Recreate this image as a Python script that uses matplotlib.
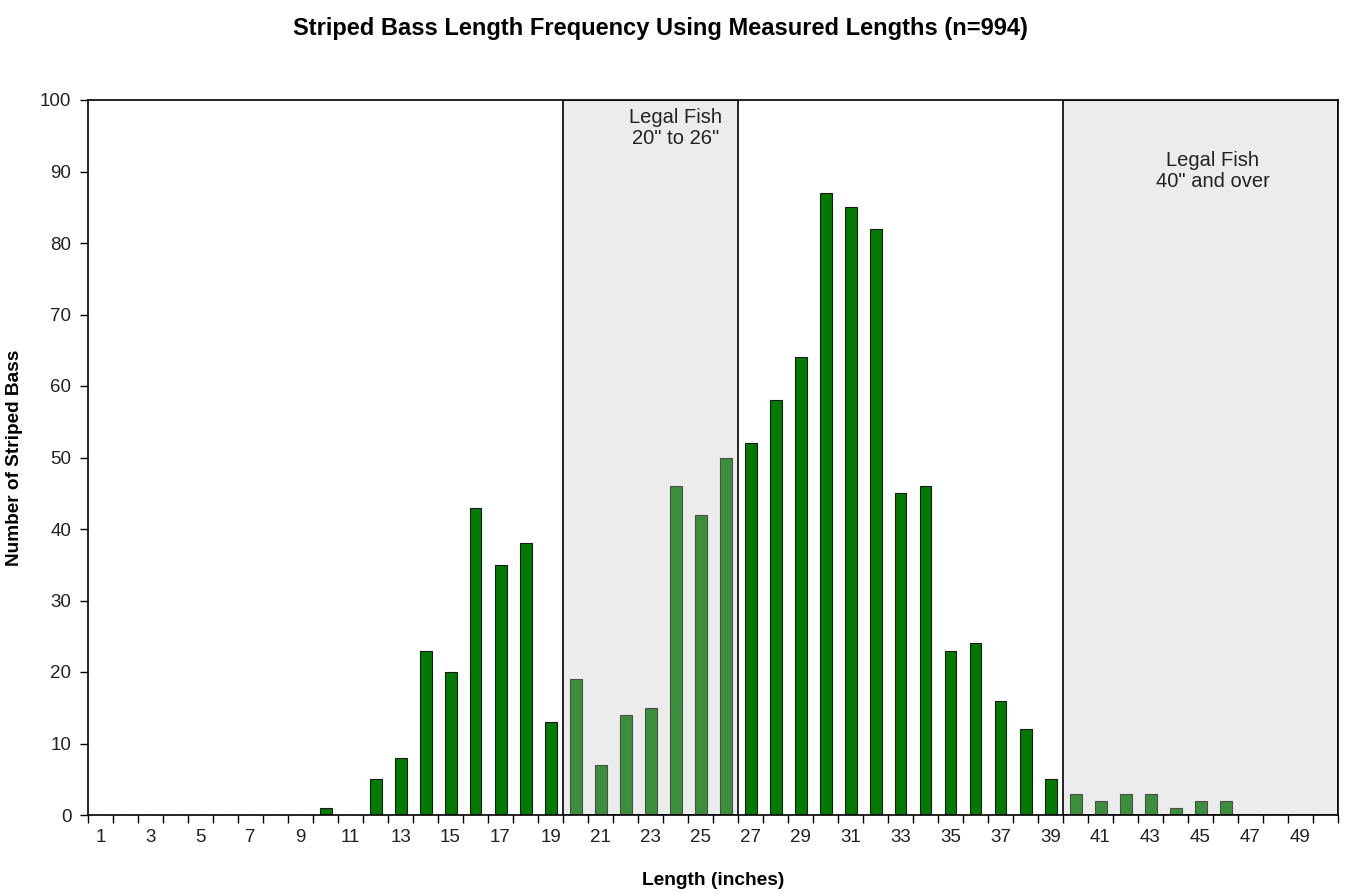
import matplotlib
matplotlib.use("Agg")
import matplotlib.pyplot as plt
from matplotlib.patches import Rectangle

plt.rcParams['font.family'] = ['Liberation Sans', 'DejaVu Sans']

lengths = list(range(1, 51))
counts = [0, 0, 0, 0, 0, 0, 0, 0, 0, 1,
          0, 5, 8, 23, 20, 43, 35, 38, 13, 19,
          7, 14, 15, 46, 42, 50, 52, 58, 64, 87,
          85, 82, 45, 46, 23, 24, 16, 12, 5, 3,
          2, 3, 3, 1, 2, 2, 0, 0, 0, 0]
tick_labels = [str(v) for v in range(1, 51, 2)]
legal_ranges = [(20, 26), (40, 50)]
legal_texts = ['Legal Fish\n20" to 26"', 'Legal Fish\n40" and over']

fig = plt.figure(figsize=(13.45, 8.94), dpi=100)
ax = fig.add_axes([88/1345, 1-815/894, 1250/1345, 715/894])

ax.bar(lengths, counts, width=0.48, color='#007a00', edgecolor='#1a1a1a',
       linewidth=0.8, zorder=2)

for (lo, hi) in legal_ranges:
    ax.add_patch(Rectangle((lo - 0.5, 0), hi - lo + 1, 100, facecolor='#c1c1c1',
                           alpha=0.3, edgecolor='none', zorder=3))
    ax.add_patch(Rectangle((lo - 0.5, 0), hi - lo + 1, 100, facecolor='none',
                           edgecolor='black', linewidth=1.2, zorder=4))

ax.text(24.0, 98.9, legal_texts[0], ha='center', va='top', fontsize=14.5,
        color='#222222', zorder=5, linespacing=1.12)
ax.text(45.5, 92.8, legal_texts[1], ha='center', va='top', fontsize=14.5,
        color='#222222', zorder=5, linespacing=1.12)

ax.set_xlim(0.5, 50.5)
ax.set_ylim(0, 100)
ax.set_yticks(range(0, 101, 10))
ax.set_xticks(range(1, 51, 2))
ax.set_xticklabels(tick_labels)
ax.set_xticks([i + 0.5 for i in range(0, 51)], minor=True)
ax.tick_params(axis='x', which='major', length=0, labelsize=13.5, pad=10,
               labelcolor='#222222')
ax.tick_params(axis='x', which='minor', length=6, width=1, direction='out')
ax.tick_params(axis='y', length=6, width=1, direction='out', labelsize=13.5, pad=6,
               labelcolor='#222222')
for s in ax.spines.values():
    s.set_color('black')
    s.set_linewidth(1.2)

ax.set_ylabel('Number of Striped Bass', fontsize=13.7, fontweight='bold', labelpad=12)
ax.set_xlabel('Length (inches)', fontsize=13.8, fontweight='bold', labelpad=19)
fig.text(660/1345, 1-28/894, 'Striped Bass Length Frequency Using Measured Lengths (n=994)',
         ha='center', va='center', fontsize=17, fontweight='bold')

fig.savefig('out.png', dpi=100)
